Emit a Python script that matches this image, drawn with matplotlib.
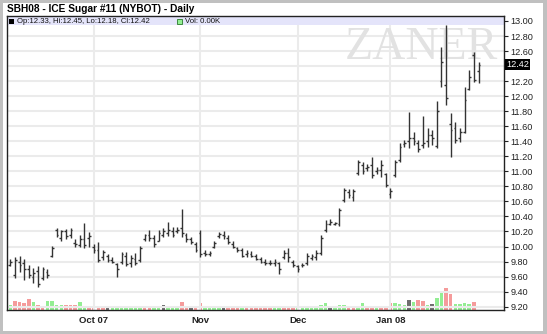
import matplotlib.pyplot as plt
from matplotlib.patches import Rectangle

# daily bars, trading-day index 0 = 4 Sep 2007
opens = [9.82, 9.76, 9.62, 9.80, 9.78, 9.70, 9.60, 9.68, 9.58, 9.66,
         9.88, 10.22, 10.12, 10.20, 10.15, 10.05, 10.02, 10.10, 10.12,
         10.00, 9.96, 9.86, 9.88, 9.82, 9.77, 9.80, 9.88, 9.78, 9.84,
         9.82, 10.10, 10.16, 10.12, 10.08, 10.16, 10.18, 10.20, 10.20, 10.24,
         10.15, 10.10, 10.04,
         10.18, 9.92, 9.90, 10.00, 10.14, 10.16, 10.12, 10.04, 9.98, 9.95,
         9.90, 9.90, 9.88, 9.84, 9.80, 9.78, 9.78, 9.78, 9.86, 9.92, 9.80,
         9.74, 9.75, 9.78, 9.85, 9.86, 9.92, 10.22, 10.30, 10.30, 10.30,
         10.62, 10.72, 10.66, 10.98, 11.08, 11.04, 11.08, 11.00, 11.02, 10.96,
         10.70, 10.95, 11.15, 11.36, 11.40, 11.45, 11.38, 11.35, 11.40, 11.48,
         11.34, 12.20, 12.15, 11.63, 11.58, 11.45, 11.52, 12.10, 12.55, 12.33]
highs = [9.85, 9.84, 9.86, 9.87, 9.84, 9.76, 9.72, 9.74, 9.73, 9.70,
         10.01, 10.25, 10.22, 10.23, 10.24, 10.10, 10.15, 10.31, 10.19,
         10.03, 10.06, 9.96, 9.90, 9.86, 9.78, 9.93, 9.93, 9.89, 9.91,
         10.01, 10.17, 10.22, 10.16, 10.22, 10.24, 10.33, 10.26, 10.26, 10.50,
         10.18, 10.13, 10.06,
         10.22, 9.95, 9.94, 10.08, 10.19, 10.20, 10.15, 10.08, 10.00, 9.98,
         9.96, 9.94, 9.90, 9.86, 9.83, 9.82, 9.84, 9.80, 9.95, 9.98, 9.82,
         9.76, 9.78, 9.91, 9.90, 9.95, 10.15, 10.35, 10.36, 10.33, 10.51,
         10.78, 10.76, 10.76, 11.15, 11.12, 11.10, 11.19, 11.06, 11.15, 10.98,
         10.78, 11.15, 11.38, 11.42, 11.79, 11.52, 11.42, 11.74, 11.58, 11.55,
         11.94, 12.65, 12.95, 11.78, 11.66, 11.58, 12.12, 12.35, 12.59, 12.45]
lows = [9.50, 9.74, 9.58, 9.66, 9.56, 9.58, 9.52, 9.46, 9.56, 9.58,
        9.86, 10.13, 10.08, 10.10, 10.12, 10.00, 9.99, 9.98, 10.00,
        9.92, 9.79, 9.82, 9.79, 9.78, 9.60, 9.77, 9.74, 9.73, 9.75,
        9.80, 10.08, 10.08, 10.00, 10.08, 10.13, 10.14, 10.13, 10.18, 10.13,
        10.06, 10.04, 9.93,
        9.86, 9.88, 9.88, 9.98, 10.12, 10.10, 10.04, 9.98, 9.93, 9.86,
        9.86, 9.86, 9.82, 9.78, 9.76, 9.75, 9.74, 9.64, 9.84, 9.80, 9.73,
        9.66, 9.73, 9.76, 9.82, 9.82, 9.89, 10.19, 10.28, 10.28, 10.27,
        10.59, 10.64, 10.60, 10.95, 10.96, 11.00, 10.91, 10.96, 10.93, 10.79,
        10.65, 10.93, 11.13, 11.32, 11.31, 11.35, 11.26, 11.31, 11.32, 11.35,
        11.31, 12.12, 11.88, 11.19, 11.38, 11.39, 11.51, 12.08, 12.19, 12.18]
closes = [9.53, 9.80, 9.82, 9.75, 9.70, 9.62, 9.65, 9.50, 9.70, 9.62,
          9.98, 10.15, 10.20, 10.14, 10.22, 10.03, 10.10, 10.02, 10.14,
          9.95, 9.82, 9.93, 9.82, 9.80, 9.70, 9.90, 9.77, 9.85, 9.78,
          9.98, 10.15, 10.12, 10.03, 10.18, 10.20, 10.22, 10.16, 10.22, 10.18,
          10.10, 10.06, 9.96,
          9.90, 9.90, 9.92, 10.05, 10.17, 10.14, 10.06, 10.00, 9.95, 9.88,
          9.92, 9.88, 9.84, 9.80, 9.78, 9.78, 9.80, 9.70, 9.92, 9.86, 9.76,
          9.70, 9.76, 9.88, 9.88, 9.92, 10.12, 10.30, 10.32, 10.31, 10.48,
          10.75, 10.68, 10.74, 11.12, 11.00, 11.06, 10.95, 11.02, 11.08, 10.82,
          10.74, 11.12, 11.32, 11.38, 11.45, 11.40, 11.30, 11.38, 11.48, 11.45,
          11.80, 12.45, 11.98, 11.55, 11.42, 11.52, 11.95, 12.26, 12.22, 12.42]

# volume (relative units) and bar colour: g = up, r = down, k = unchanged
volume = [4.7, 4.7, 8.7, 8.0, 6.7, 11.3, 8.0, 5.3, 3.7, 8.7,
          9.0, 4.7, 4.7, 4.7, 4.7, 4.7, 8.0, 3.3, 3.0, 3.0,
          3.0, 3.0, 2.0, 3.0, 3.0, 3.0, 3.0, 3.0, 2.5, 3.0,
          4.0, 3.3, 3.0, 3.0, 5.3, 3.0, 3.7, 3.0, 8.3, 3.0,
          3.0, 3.0, 7.0, 4.0, 4.0, 4.0, 4.0, 3.0, 3.3, 3.3,
          4.0, 3.3, 3.3, 3.3, 3.3, 3.3, 3.3, 2.5, 4.0, 4.0,
          3.0, 3.0, 2.5, 2.5, 2.5, 3.0, 3.0, 3.0, 5.5, 7.0,
          4.0, 3.0, 5.0, 5.0, 3.5, 3.3, 3.0, 7.5, 3.0, 3.3,
          3.3, 4.0, 3.7, 7.3, 7.0, 6.3, 5.3, 10.3, 8.3, 10.0,
          9.3, 5.0, 6.0, 12.3, 17.7, 22.3, 16.3, 6.3, 6.3, 7.0,
          5.7, 7.7, 0.0]
vol_dir = ("ggrrrrgrrg" "gggrrrggrr" "rrkggggggg" "rrggkgggrr" "krrggggkrr"
           "rgrrrrrrgg" "rrrggggggg" "kgggrrggrr" "grrrgggkgr" "rgkggrrggg" "grg")

month_pos = [19, 42, 63, 83]
month_labels = ["Oct 07", "Nov", "Dec", "Jan 08"]
yticks = [round(9.2 + 0.2 * i, 2) for i in range(20)]

W, H = 547, 334
fig = plt.figure(figsize=(W / 100, H / 100), dpi=100, facecolor="#c0c0c0")
fig.patches.append(Rectangle((3 / W, 1 - 331 / H), 540 / W, 328 / H,
                             transform=fig.transFigure, facecolor="white",
                             edgecolor="none", zorder=-1))

ax = fig.add_axes([7 / W, 1 - 310 / H, 497 / W, 294 / H])
n = len(closes)
x = list(range(n))

ax.set_xlim(0.3, 107.5)
ax.set_ylim(9.156, 13.066)

for y in yticks:
    ax.axhline(y, color="#ebebeb", lw=1.5, zorder=1)
for m in month_pos:
    ax.axvline(m, color="#ebebeb", lw=1.5, zorder=1)

ax.text(0.68, 0.893, "ZANER", transform=ax.transAxes, family="Liberation Serif",
        fontsize=33, color="#e2e2e2", ha="left", va="center", zorder=1.5,
        clip_on=True)

# volume overlay
vax = ax.twinx()
vax.set_ylim(0, 294)
vax.set_axis_off()
cmap = {"g": "#93ee93", "r": "#f59b9b", "k": "#6e6e6e"}
vcols = [cmap[c] for c in vol_dir]
vax.bar(x, volume, width=0.75, color=vcols, zorder=2)

# OHLC bars
tick = 0.38
ax.vlines(x, lows, highs, color="#333333", lw=1.0, zorder=3)
ax.hlines(opens, [i - tick for i in x], x, color="#333333", lw=1.0, zorder=3)
ax.hlines(closes, x, [i + tick for i in x], color="#333333", lw=1.0, zorder=3)
ax.set_zorder(vax.get_zorder() + 1)
ax.patch.set_visible(False)
vax.patch.set_visible(False)

# header band
ax.add_patch(Rectangle((0, 1 - 9 / 294), 1, 9 / 294, transform=ax.transAxes,
                       facecolor="#e4e4fa", edgecolor="none", zorder=4))

ax.yaxis.tick_right()
ax.set_yticks(yticks)
ax.set_yticklabels(["" if abs(v - 12.4) < 1e-6 else f"{v:.2f}" for v in yticks],
                   family="Liberation Sans")
ax.tick_params(axis="y", labelsize=6.6, length=3, width=0.8, pad=1.5,
               colors="#222222")
ax.set_xticks(month_pos)
ax.set_xticklabels(month_labels, fontweight="bold", family="Liberation Sans")
ax.tick_params(axis="x", labelsize=6.8, length=0, pad=4, colors="#222222")
for s in ax.spines.values():
    s.set_color("#222222")
    s.set_linewidth(1.0)
    s.set_zorder(5)

ax.text(1.004, closes[-1], f"{closes[-1]:.2f}", transform=ax.get_yaxis_transform(),
        fontsize=6.6, family="Liberation Sans", color="white", ha="left",
        va="center", zorder=6,
        bbox=dict(facecolor="black", edgecolor="none", pad=0.6), clip_on=False)

fig.text(7 / W, 1 - 9 / H, "SBH08 - ICE Sugar #11 (NYBOT) - Daily",
         fontsize=7.3, fontweight="bold", family="Liberation Sans",
         ha="left", va="center", color="black")
fig.patches.append(Rectangle((9 / W, 1 - 24 / H), 5 / W, 5 / H,
                             transform=fig.transFigure, facecolor="black",
                             edgecolor="none", zorder=6))
fig.text(17 / W, 1 - 21.5 / H,
         f"Op:{opens[-1]:.2f}, Hi:{highs[-1]:.2f}, Lo:{lows[-1]:.2f}, Cl:{closes[-1]:.2f}",
         fontsize=5.6, family="Liberation Sans", ha="left", va="center",
         color="#111111", zorder=6)
fig.patches.append(Rectangle((177 / W, 1 - 24 / H), 5 / W, 5 / H,
                             transform=fig.transFigure, facecolor="#93ee93",
                             edgecolor="#2a7a2a", lw=0.6, zorder=6))
fig.text(185 / W, 1 - 21.5 / H, "Vol: 0.00K", fontsize=5.6,
         family="Liberation Sans", ha="left", va="center", color="#111111",
         zorder=6)

fig.savefig("out.png", dpi=100, facecolor=fig.get_facecolor())
